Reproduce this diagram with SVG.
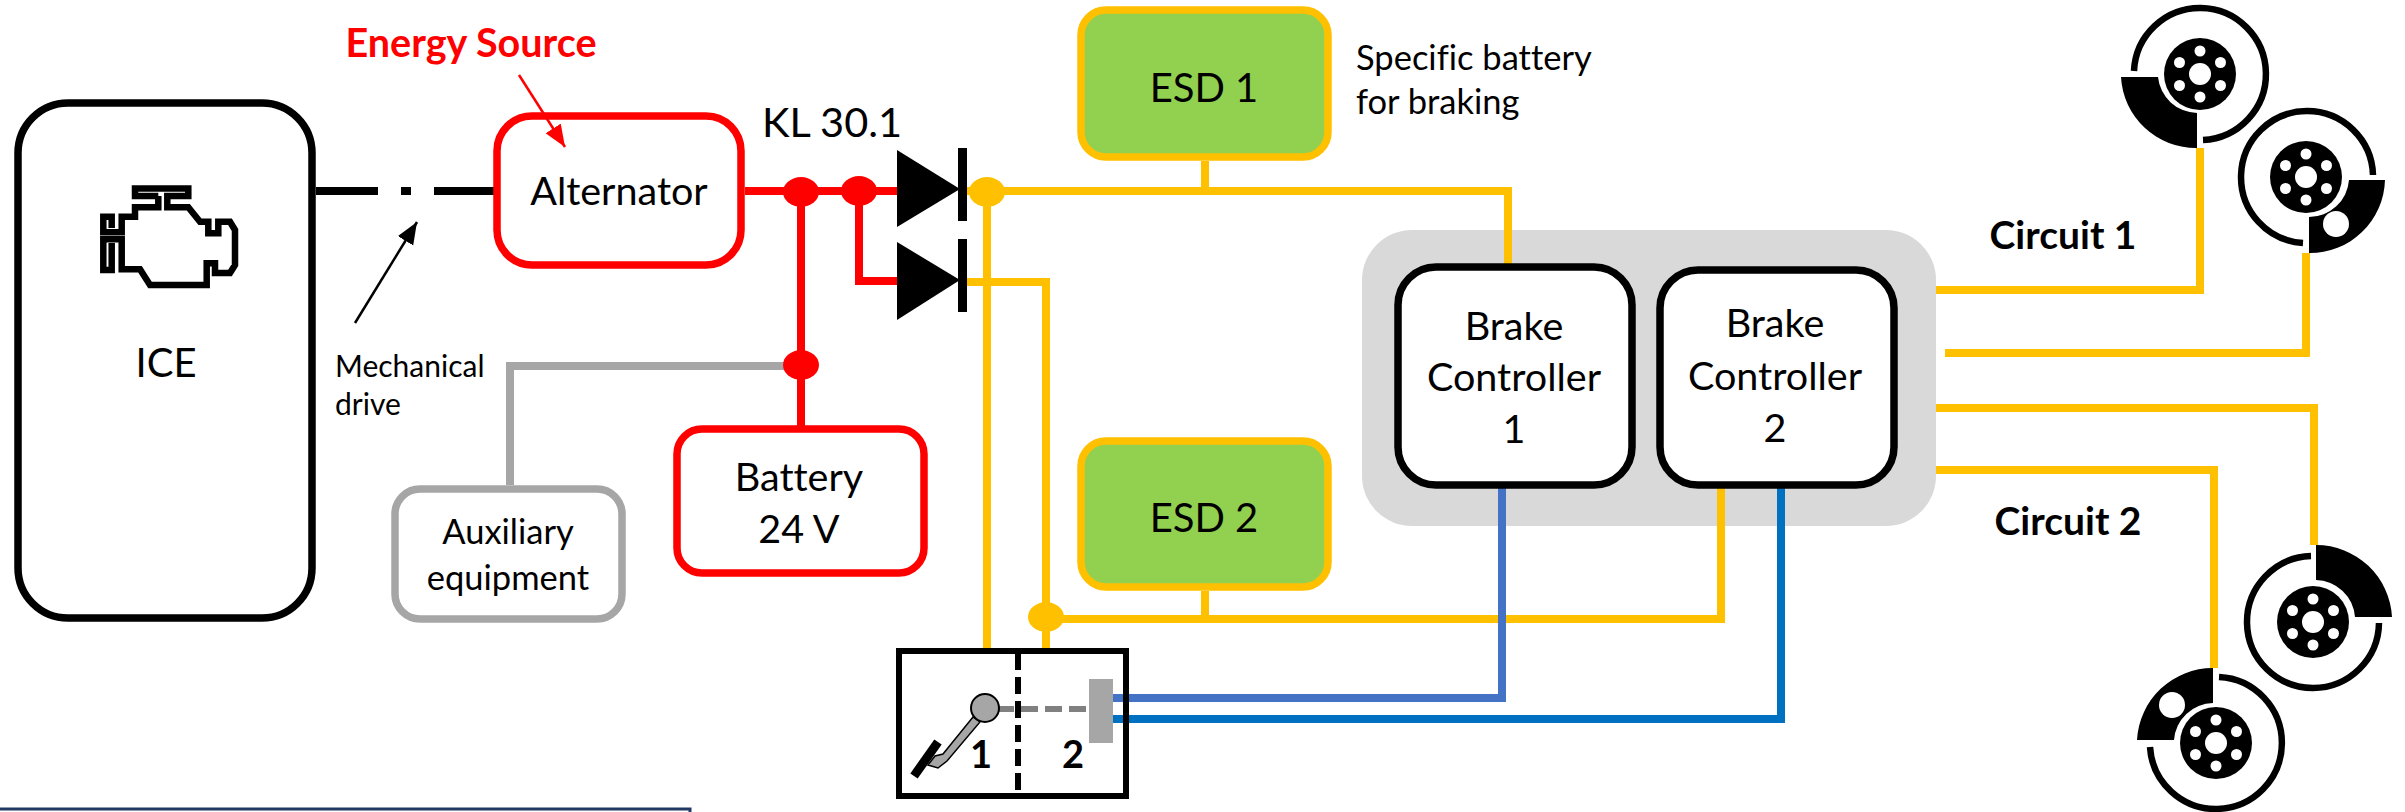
<svg xmlns="http://www.w3.org/2000/svg" width="2405" height="812" viewBox="0 0 2405 812">
<style>
text{font-family:Lato,"Liberation Sans",sans-serif;fill:#000;text-anchor:middle;font-variant-ligatures:none}
.f40{font-size:40px}.f36{font-size:39.5px}.f30{font-size:30px}.aux{font-size:34.5px}.f34{font-size:34.5px;text-anchor:start}
.st{text-anchor:start}
.b{font-weight:700}
.box{fill:#fff;stroke-width:7.5}
.k{stroke:#000}.r{stroke:#f00}.g{stroke:#a6a6a6}
.esd{fill:#92d050;stroke:#ffc000;stroke-width:7.5}
.w{fill:none;stroke-width:8}
.y{stroke:#ffc000}
.caliper{fill:#000;stroke:none}
.ring{fill:none;stroke:#000;stroke-width:6.5}
.hole{fill:#fff}
</style>
<defs>
<marker id="ah-k" markerUnits="userSpaceOnUse" markerWidth="26" markerHeight="20" refX="22" refY="9" orient="auto"><path d="M0,0L22,9L0,18Z" fill="#000"/></marker>
<marker id="ah-r" markerUnits="userSpaceOnUse" markerWidth="26" markerHeight="20" refX="22" refY="9" orient="auto"><path d="M0,0L22,9L0,18Z" fill="#f00"/></marker>
<g id="hub"><circle r="36" fill="#000"/><circle r="11" class="hole"/>
<circle cy="-23" r="5.5" class="hole"/><circle cy="23" r="5.5" class="hole"/><circle cx="20.5" cy="-11.5" r="5.5" class="hole"/><circle cx="20.5" cy="11.5" r="5.5" class="hole"/><circle cx="-20.5" cy="-11.5" r="5.5" class="hole"/><circle cx="-20.5" cy="11.5" r="5.5" class="hole"/></g>
</defs>
<rect width="2405" height="812" fill="#fff"/>
<path d="M0,809H690V812" fill="none" stroke="#1f3864" stroke-width="3"/>
<g id="panel"><rect x="1362" y="230" width="574" height="296" rx="50" fill="#d9d9d9"/></g>
<g id="connectors">
<path class="w" stroke="#000" d="M316,191H378M401,191H411M434,191H497"/>
<path fill="none" stroke="#000" stroke-width="2.5" d="M355,323L417,222" marker-end="url(#ah-k)"/>
<path class="w g" stroke-width="7.5" d="M801,366H510V485"/>
<path class="w r" stroke-width="9" d="M745,191H897M801,191V426M859,191V281H897"/>
<path class="w y" d="M967,191H1508V268M987,191V648M967,282H1046V648M1046,619H1721V488M1205,161V191M1205,591V619"/>
<path class="w y" d="M1936,290H2200V148M1945,353H2306V253M1936,408H2314V545M1936,470H2214V668"/>
<path class="w" stroke="#4472c4" stroke-width="7" d="M1113,698H1502V488"/>
<path class="w" stroke="#0070c0" stroke-width="7" d="M1113,719H1781V488"/>
<ellipse cx="801" cy="192" rx="18" ry="15" fill="#f00"/>
<ellipse cx="859" cy="191" rx="18" ry="15" fill="#f00"/>
<ellipse cx="801" cy="365" rx="18" ry="15" fill="#f00"/>
<ellipse cx="987" cy="192" rx="18" ry="15" fill="#ffc000"/>
<ellipse cx="1046" cy="617" rx="18" ry="15" fill="#ffc000"/>
</g>
<g id="diode1"><path d="M897,150V227L960,189Z" fill="#000"/><rect x="958" y="148" width="9" height="73" fill="#000"/></g>
<g id="diode2"><path d="M897,242V320L960,280Z" fill="#000"/><rect x="958" y="239" width="9" height="73" fill="#000"/></g>
<g id="ice"><rect class="box k" x="18" y="103" width="294" height="515" rx="50"/>
<path fill="none" stroke="#000" stroke-width="6.5" d="M158.3,196H135V188.5H188.3V196H167.3V207.3H188.3L200,221.7H208.3V233.3H218.3V221.7H230L235,230V265L230,273H215V263.3H206.7V285H150L140,269.3H121.7V239.3H103.3V270H111.7V243M158.3,196V207.3H135V216.7H121.7V232.3H103.3V216.7H111.7V228"/>
<text class="f40" x="166" y="377">ICE</text></g>
<g id="mech"><text class="f30 st" x="335" y="377">Mechanical</text><text class="f30 st" x="335" y="415">drive</text></g>
<g id="alternator"><rect class="box r" x="497" y="116" width="244" height="149" rx="35"/><text class="f36" x="619" y="205">Alternator</text></g>
<text class="b" x="471" y="57" font-size="39.5" style="fill:#f00">Energy Source</text>
<path fill="none" stroke="#f00" stroke-width="2.5" d="M519,75L565,147" marker-end="url(#ah-r)"/>
<text class="f36" x="832" y="137" style="font-size:41.5px">KL 30.1</text>
<g id="battery"><rect class="box r" x="677" y="429" width="247" height="144" rx="25"/><text class="f36" x="799" y="491">Battery</text><text class="f36" x="799" y="543">24 V</text></g>
<g id="aux"><rect class="box g" x="395" y="489" width="227" height="130" rx="25"/><text class="aux" x="508" y="544">Auxiliary</text><text class="aux" x="508" y="590">equipment</text></g>
<g id="esd1"><rect class="esd" x="1081" y="10" width="247" height="147" rx="25"/><text class="f40" x="1204" y="102">ESD 1</text></g>
<g id="esd2"><rect class="esd" x="1081" y="441" width="247" height="146" rx="25"/><text class="f40" x="1204" y="532">ESD 2</text></g>
<text class="f34" x="1356" y="70">Specific battery</text>
<text class="f34" x="1356" y="114">for braking</text>
<g id="bc1"><rect class="box k" x="1398" y="267" width="234" height="218" rx="38"/><text class="f36" x="1514" y="340">Brake</text><text class="f36" x="1514" y="391">Controller</text><text class="f36" x="1514" y="443">1</text></g>
<g id="bc2"><rect class="box k" x="1660" y="270" width="234" height="215" rx="38"/><text class="f36" x="1775" y="337">Brake</text><text class="f36" x="1775" y="390">Controller</text><text class="f36" x="1775" y="442">2</text></g>
<text class="b" x="2063" y="249" font-size="39">Circuit 1</text>
<text class="b" x="2068" y="535" font-size="39">Circuit 2</text>
<g id="pedal">
<rect x="899" y="651" width="227" height="145" fill="none" stroke="#000" stroke-width="6"/>
<path d="M1018,653V795" fill="none" stroke="#000" stroke-width="6" stroke-dasharray="17 7"/>
<path d="M973,717L980,722L947,761L938,768L928,765L935,756L943,754Z" fill="#a6a6a6" stroke="#000" stroke-width="1.5"/>
<path d="M914,776L938,742" stroke="#000" stroke-width="9" fill="none"/>
<path d="M997,709H1086" stroke="#808080" stroke-width="6" stroke-dasharray="17 7" fill="none"/>
<circle cx="985" cy="708" r="14" fill="#a6a6a6" stroke="#000" stroke-width="2"/>
<rect x="1089" y="679" width="24" height="64" fill="#a6a6a6"/>
<text class="b" x="981" y="768" font-size="38">1</text><text class="b" x="1073" y="768" font-size="38">2</text>
</g>
<g id="disc1"><use href="#hub" x="2200" y="74"/><path class="ring" d="M2134,71A66,66 0 1 1 2203,140"/><path class="caliper" d="M2121,77H2158A40,40 0 0 0 2197,113V148A75,75 0 0 1 2121,77Z"/></g>
<g id="disc2"><use href="#hub" x="2306" y="177"/><path class="ring" d="M2373,175A66,66 0 1 0 2303,243"/><path class="caliper" d="M2385,180H2349A40,40 0 0 1 2309,217V253A75,75 0 0 0 2385,180Z"/><circle class="hole" cx="2336" cy="224" r="13"/></g>
<g id="disc3"><use href="#hub" x="2313" y="622"/><path class="ring" d="M2379,623A66,66 0 1 1 2311,556"/><path class="caliper" d="M2316,545V580A40,40 0 0 1 2355,617H2392A76,76 0 0 0 2316,545Z"/></g>
<g id="disc4"><use href="#hub" x="2216" y="743"/><path class="ring" d="M2150,747A66,66 0 1 0 2219,677"/><path class="caliper" d="M2213,668V703A40,40 0 0 0 2174,740H2137A76,76 0 0 1 2213,668Z"/><circle class="hole" cx="2172" cy="705" r="13"/></g>
</svg>
